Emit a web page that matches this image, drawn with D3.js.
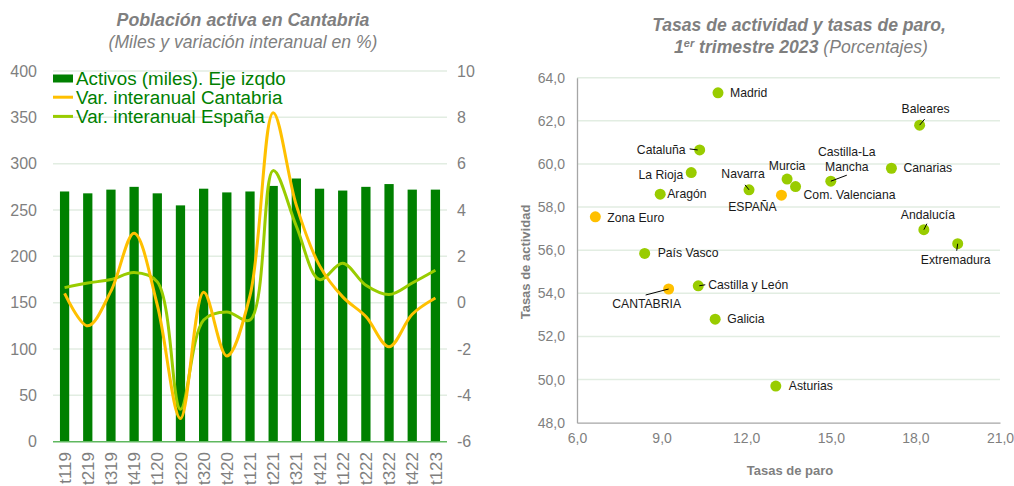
<!DOCTYPE html>
<html>
<head>
<meta charset="utf-8">
<script src="https://cdn.jsdelivr.net/npm/d3@7"></script>
<style>
    body { margin: 0; background: #fff; }
    svg { display: block; font-family: "Liberation Sans", Arial, sans-serif; }
</style>
</head>
<body>
<script>

// ----- Left chart data: Población activa en Cantabria -----
const quarters = ["t119","t219","t319","t419","t120","t220","t320","t420","t121",
    "t221","t321","t421","t122","t222","t322","t422","t123"];
const activos = [270, 268, 272, 275, 268, 255, 273, 269, 270, 276, 284, 273, 271, 275, 278, 272, 272];
const varCantabria = [0.4, -1.0, 0.5, 3.0, -0.1, -5.0, 0.45, -2.3, 0.3, 8.2, 4.2, 1.6, 0.25, -0.6, -1.9, -0.5, 0.2];
const varEspana = [0.65, 0.85, 1.0, 1.3, 0.9, -4.6, -0.75, -0.4, -0.75, 5.7, 3.3, 1.0, 1.7, 0.75, 0.35, 0.85, 1.4];
const leftTicks = [0, 50, 100, 150, 200, 250, 300, 350, 400];
const rightTicks = [-6, -4, -2, 0, 2, 4, 6, 8, 10];

// ----- Right chart data: tasas de actividad y paro, 1T 2023 -----
const regiones = ["Madrid","Cataluña","La Rioja","Aragón","Zona Euro","Navarra","ESPAÑA","País Vasco",
    "CANTABRIA","Castilla y León","Galicia","Asturias","Murcia","Com. Valenciana","Castilla-La Mancha",
    "Canarias","Baleares","Andalucía","Extremadura"];
const tasaParo = [11.0, 10.35, 10.05, 8.95, 6.65, 12.1, 13.25, 8.4, 9.25, 10.3, 10.9, 13.05, 13.45, 13.75,
    15.0, 17.15, 18.15, 18.3, 19.5];
const tasaActividad = [63.3, 60.65, 59.6, 58.6, 57.55, 58.8, 58.55, 55.85, 54.2, 54.35, 52.8, 49.7, 59.3,
    58.95, 59.2, 59.8, 61.8, 56.95, 56.3];
const referencias = ["Zona Euro", "ESPAÑA", "CANTABRIA"];
const xTicksScat = [6, 9, 12, 15, 18, 21];
const yTicksScat = [48, 50, 52, 54, 56, 58, 60, 62, 64];

// label placement (offsets from the point, in px) and leader lines
const labelPos = {
    "Madrid": [12, 4, "start"],
    "Cataluña": [-14, 4, "end", [-10, -1, -2, 0]],
    "La Rioja": [-8, 6, "end"],
    "Aragón": [7, 4, "start"],
    "Zona Euro": [12, 5, "start"],
    "Navarra": [-6, -12, "middle", [-4, -5, 0, 0]],
    "ESPAÑA": [-29, 16, "middle"],
    "País Vasco": [13, 4, "start"],
    "CANTABRIA": [-22, 19, "middle", [-23, 6, 0, 0]],
    "Castilla y León": [10, 3, "start", [1, 0, 7, -1]],
    "Galicia": [12, 4, "start"],
    "Asturias": [13, 4, "start"],
    "Murcia": [0, -9, "middle"],
    "Com. Valenciana": [8, 12, "start"],
    "Castilla-La Mancha": [16, -25, "middle", [0, 0, 16, -6]],
    "Canarias": [12, 4, "start"],
    "Baleares": [6, -12, "middle", [0, 0, 5, -6]],
    "Andalucía": [4, -11, "middle", [0, 0, 3, -6]],
    "Extremadura": [-2, 20, "middle", [0, 0, -1, 7]]
};

const grey = "#7f7f7f";
const gridColor = "#e2ede2";
const barGreen = "#008000";
const orange = "#FFC000";
const lightGreen = "#99CC00";

const svg = d3.select("body")
    .append("svg")
    .attr("width", 1014)
    .attr("height", 486);

// =========================== LEFT CHART ===========================

const left = svg.append("g");

let xBand = d3.scaleBand()
    .domain(quarters)
    .range([53, 447])
    .paddingInner(0.6)
    .paddingOuter(0.3);

let yLeft = d3.scaleLinear().domain([0, 400]).range([441.7, 71]);
let yRight = d3.scaleLinear().domain([-6, 10]).range([441.7, 71]);

// titles
left.append("text")
    .attr("x", 243).attr("y", 26)
    .attr("text-anchor", "middle")
    .attr("font-size", 17.8).attr("font-weight", "bold").attr("font-style", "italic")
    .attr("fill", grey)
    .text("Población activa en Cantabria");

left.append("text")
    .attr("x", 243).attr("y", 48)
    .attr("text-anchor", "middle")
    .attr("font-size", 17.6).attr("font-style", "italic")
    .attr("fill", grey)
    .text("(Miles y variación interanual en %)");

// gridlines
left.selectAll(".gridL")
    .data(leftTicks.filter(d => d > 0))
    .enter()
    .append("line")
    .attr("x1", 53).attr("x2", 447)
    .attr("y1", d => yLeft(d)).attr("y2", d => yLeft(d))
    .attr("stroke", gridColor)
    .attr("stroke-width", 1.5);

// left axis
left.append("g")
    .attr("transform", "translate(53,0)")
    .call(d3.axisLeft(yLeft).tickValues(leftTicks).tickSize(0).tickPadding(16))
    .call(g => g.select(".domain").remove())
    .selectAll("text")
    .attr("font-size", 16)
    .attr("font-family", "Liberation Sans, Arial, sans-serif")
    .attr("fill", grey);

// right axis
left.append("g")
    .attr("transform", "translate(447,0)")
    .call(d3.axisRight(yRight).tickValues(rightTicks).tickSize(0).tickPadding(10).tickFormat(d => String(d)))
    .call(g => g.select(".domain").remove())
    .selectAll("text")
    .attr("font-size", 16)
    .attr("font-family", "Liberation Sans, Arial, sans-serif")
    .attr("fill", grey);

// bars
left.selectAll(".bar")
    .data(activos)
    .enter()
    .append("rect")
    .attr("class", "bar")
    .attr("x", (d, i) => xBand(quarters[i]))
    .attr("width", xBand.bandwidth())
    .attr("y", d => yLeft(d))
    .attr("height", d => yLeft(0) - yLeft(d))
    .attr("fill", barGreen);

// baseline
left.append("line")
    .attr("x1", 53).attr("x2", 447)
    .attr("y1", yLeft(0)).attr("y2", yLeft(0))
    .attr("stroke", "#5fb85f")
    .attr("stroke-width", 1.5);

// smooth lines
const lineGen = d3.line()
    .x((d, i) => xBand(quarters[i]) + xBand.bandwidth() / 2)
    .y(d => yRight(d))
    .curve(d3.curveCatmullRom.alpha(0.5));

left.append("path")
    .datum(varEspana)
    .attr("d", lineGen)
    .attr("fill", "none")
    .attr("stroke", lightGreen)
    .attr("stroke-width", 3);

left.append("path")
    .datum(varCantabria)
    .attr("d", lineGen)
    .attr("fill", "none")
    .attr("stroke", orange)
    .attr("stroke-width", 3);

// x labels (rotated)
left.selectAll(".xlab")
    .data(quarters)
    .enter()
    .append("text")
    .attr("transform", d => "translate(" + (xBand(d) + xBand.bandwidth() / 2) + ",452) rotate(-90)")
    .attr("text-anchor", "end")
    .attr("dy", "0.36em")
    .attr("font-size", 17)
    .attr("fill", grey)
    .text(d => d);

// legend
const legend = left.append("g");
const legendItems = [
    { label: "Activos (miles). Eje izqdo", type: "rect", color: barGreen },
    { label: "Var. interanual Cantabria", type: "line", color: orange },
    { label: "Var. interanual España", type: "line", color: lightGreen }
];
legendItems.forEach((item, i) => {
    let y = 78 + i * 19.2;
    if (item.type === "rect") {
        legend.append("rect")
            .attr("x", 53).attr("y", y - 3.5)
            .attr("width", 20).attr("height", 8)
            .attr("fill", item.color);
    } else {
        legend.append("line")
            .attr("x1", 53).attr("x2", 73)
            .attr("y1", y).attr("y2", y)
            .attr("stroke", item.color)
            .attr("stroke-width", 3);
    }
    legend.append("text")
        .attr("x", 76).attr("y", y + 6.5)
        .attr("font-size", 18.8)
        .attr("fill", barGreen)
        .text(item.label);
});

// =========================== RIGHT CHART ===========================

const right = svg.append("g");

let xScat = d3.scaleLinear().domain([6, 21]).range([577, 1000]);
let yScat = d3.scaleLinear().domain([48, 64]).range([422.7, 77.7]);
const comma = d => d3.format(".1f")(d).replace(".", ",");

// title
right.append("text")
    .attr("x", 799).attr("y", 31)
    .attr("text-anchor", "middle")
    .attr("font-size", 17.6).attr("font-weight", "bold").attr("font-style", "italic")
    .attr("fill", grey)
    .text("Tasas de actividad y tasas de paro,");

const t2 = right.append("text")
    .attr("x", 801).attr("y", 53)
    .attr("text-anchor", "middle")
    .attr("font-size", 17.6).attr("font-style", "italic")
    .attr("fill", grey);
t2.append("tspan").attr("font-weight", "bold").text("1");
t2.append("tspan").attr("font-weight", "bold").attr("font-size", 11).attr("dy", -6).text("er");
t2.append("tspan").attr("font-weight", "bold").attr("dy", 6).text(" trimestre 2023 ");
t2.append("tspan").text("(Porcentajes)");

// gridlines
right.selectAll(".gridR")
    .data(yTicksScat.filter(d => d > 48))
    .enter()
    .append("line")
    .attr("x1", 577).attr("x2", 1000)
    .attr("y1", d => yScat(d)).attr("y2", d => yScat(d))
    .attr("stroke", gridColor)
    .attr("stroke-width", 1.5);

// axes
right.append("g")
    .attr("transform", "translate(577,0)")
    .call(d3.axisLeft(yScat).tickValues(yTicksScat).tickSize(0).tickPadding(12).tickFormat(comma))
    .call(g => g.select(".domain").attr("stroke", "#a6a6a6").attr("stroke-width", 1.3))
    .selectAll("text")
    .attr("font-size", 14)
    .attr("font-family", "Liberation Sans, Arial, sans-serif")
    .attr("fill", grey);

right.append("g")
    .attr("transform", "translate(0," + yScat(48) + ")")
    .call(d3.axisBottom(xScat).tickValues(xTicksScat).tickSize(0).tickPadding(10).tickFormat(comma))
    .call(g => g.select(".domain").attr("stroke", "#a6a6a6").attr("stroke-width", 1.3))
    .selectAll("text")
    .attr("font-size", 14)
    .attr("font-family", "Liberation Sans, Arial, sans-serif")
    .attr("fill", grey);

// axis titles
right.append("text")
    .attr("transform", "translate(530,262) rotate(-90)")
    .attr("text-anchor", "middle")
    .attr("font-size", 13).attr("font-weight", "bold")
    .attr("fill", grey)
    .text("Tasas de actividad");

right.append("text")
    .attr("x", 790).attr("y", 475)
    .attr("text-anchor", "middle")
    .attr("font-size", 13).attr("font-weight", "bold")
    .attr("fill", grey)
    .text("Tasas de paro");

// points
right.selectAll(".scatterPoint")
    .data(regiones)
    .enter()
    .append("circle")
    .attr("class", "scatterPoint")
    .attr("cx", (d, i) => xScat(tasaParo[i]))
    .attr("cy", (d, i) => yScat(tasaActividad[i]))
    .attr("r", 5.5)
    .attr("fill", d => referencias.includes(d) ? orange : lightGreen);

// leader lines
regiones.forEach((name, i) => {
    let p = labelPos[name];
    if (!p[3]) return;
    let cx = xScat(tasaParo[i]), cy = yScat(tasaActividad[i]);
    right.append("line")
        .attr("x1", cx + p[3][0]).attr("y1", cy + p[3][1])
        .attr("x2", cx + p[3][2]).attr("y2", cy + p[3][3])
        .attr("stroke", "#000")
        .attr("stroke-width", 1);
});

// labels
regiones.forEach((name, i) => {
    let p = labelPos[name];
    let cx = xScat(tasaParo[i]), cy = yScat(tasaActividad[i]);
    let txt = right.append("text")
        .attr("x", cx + p[0]).attr("y", cy + p[1])
        .attr("text-anchor", p[2])
        .attr("font-size", 12.2)
        .attr("fill", "#1a1a1a");
    if (name === "Castilla-La Mancha") {
        txt.append("tspan").attr("x", cx + p[0]).text("Castilla-La");
        txt.append("tspan").attr("x", cx + p[0]).attr("dy", 15).text("Mancha");
    } else {
        txt.text(name);
    }
});

</script>
</body>
</html>
